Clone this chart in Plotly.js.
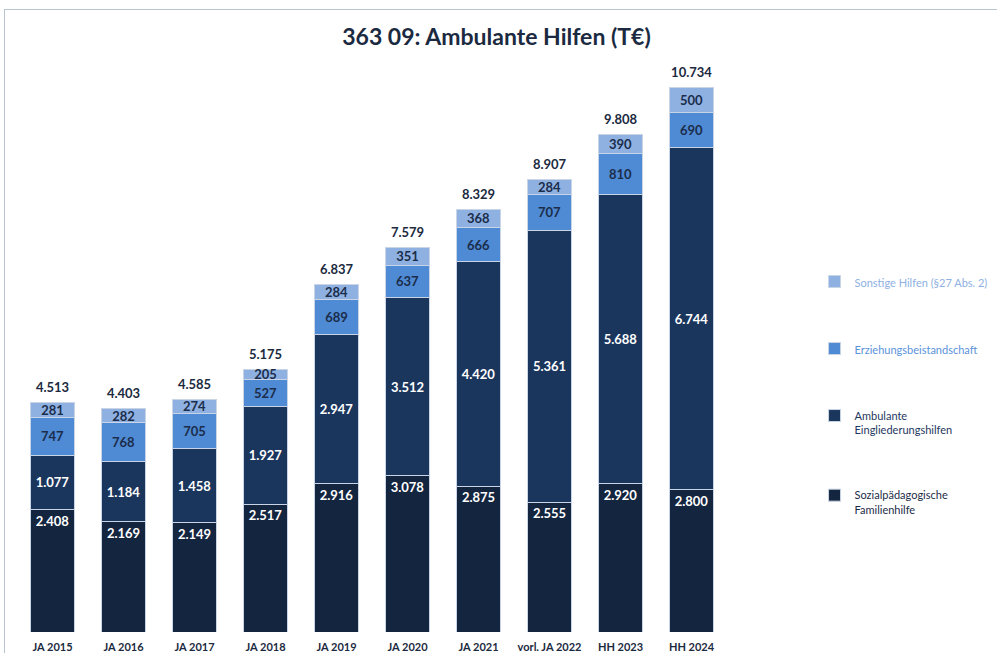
<!DOCTYPE html>
<html>
<head>
<meta charset="utf-8">
<script src="https://cdn.plot.ly/plotly-3.0.1.min.js"></script>
<style>
  html, body { margin: 0; padding: 0; background: #ffffff; }
  #wrap { position: relative; width: 997px; height: 655px; }
  #chart { position: absolute; left: 0; top: 0; width: 997px; height: 655px; }
  #frame { position: absolute; left: 4px; top: 9px; width: 993px; height: 643px;
           border-left: 1px solid #b8c4d2; border-top: 1px solid #b8c4d2; pointer-events: none; }
</style>
</head>
<body>
<div id="wrap"><div id="chart"></div><div id="frame"></div></div>
<script>
const categories = ["JA 2015", "JA 2016", "JA 2017", "JA 2018", "JA 2019", "JA 2020", "JA 2021", "vorl. JA 2022", "HH 2023", "HH 2024"];
const sozialpaedagogische = [2408, 2169, 2149, 2517, 2916, 3078, 2875, 2555, 2920, 2800];
const ambulanteEingliederung = [1077, 1184, 1458, 1927, 2947, 3512, 4420, 5361, 5688, 6744];
const erziehungsbeistandschaft = [747, 768, 705, 527, 689, 637, 666, 707, 810, 690];
const sonstigeHilfen = [281, 282, 274, 205, 284, 351, 368, 284, 390, 500];
const totals = [4513, 4403, 4585, 5175, 6837, 7579, 8329, 8907, 9808, 10734];

const FONT = "Lato, 'Open Sans', sans-serif";
const lineStyle = { color: "#c9d5e6", width: 1 };

function barTrace(name, values, color, textColor, anchor, legendColor, group, rank) {
  return {
    type: "bar",
    x: categories,
    y: values,
    name: '<span style="color:' + legendColor + '">' + name + '</span>',
    legendgroup: group,
    legendrank: rank,
    marker: { color: color, line: lineStyle },
    texttemplate: "%{y:,.0f}",
    textposition: "inside",
    insidetextanchor: anchor,
    textangle: 0,
    textfont: { family: FONT, size: 13, color: textColor, weight: "bold" },
    hoverinfo: "x+y+name"
  };
}

const traces = [
  barTrace("Sozialpädagogische<br>Familienhilfe", sozialpaedagogische, "#14253f", "#ffffff", "end", "#1c2c47", "g4", 4),
  barTrace("Ambulante<br>Eingliederungshilfen", ambulanteEingliederung, "#1b365d", "#ffffff", "middle", "#1e3760", "g3", 3),
  barTrace("Erziehungsbeistandschaft", erziehungsbeistandschaft, "#4f8ad4", "#1b2d4a", "middle", "#5a92da", "g2", 2),
  barTrace("Sonstige Hilfen (§27 Abs. 2)", sonstigeHilfen, "#8eb1e2", "#1b2d4a", "middle", "#8eb1e2", "g1", 1),
  {
    type: "scatter",
    mode: "markers+text",
    x: categories,
    y: totals,
    marker: { size: 10, color: "rgba(0,0,0,0)" },
    texttemplate: "%{y:,.0f}",
    textposition: "top center",
    textfont: { family: FONT, size: 13, color: "#1b2a40", weight: "bold" },
    showlegend: false,
    cliponaxis: false,
    hoverinfo: "skip"
  }
];

const layout = {
  width: 997,
  height: 655,
  separators: ",.",
  paper_bgcolor: "#ffffff",
  plot_bgcolor: "#ffffff",
  margin: { l: 17, r: 270, t: 40, b: 23 },
  barmode: "stack",
  bargap: 0.38,
  uniformtext: { mode: "show", minsize: 13 },
  title: {
    text: "363 09: Ambulante Hilfen (T€)",
    x: 0.498, xref: "container", xanchor: "center",
    y: 0.944, yref: "container", yanchor: "middle",
    font: { family: FONT, size: 23, color: "#1b2a40", weight: "bold" }
  },
  xaxis: {
    type: "category",
    range: [-0.5, categories.length - 0.5],
    showgrid: false, zeroline: false, showline: false,
    ticks: "outside", ticklen: 5, tickcolor: "rgba(0,0,0,0)",
    tickfont: { family: FONT, size: 11, color: "#1b2a40", weight: "bold" },
    fixedrange: true
  },
  yaxis: {
    range: [0, 11660],
    showgrid: false, zeroline: false, showline: false,
    showticklabels: false, ticks: "",
    fixedrange: true
  },
  showlegend: true,
  legend: {
    xref: "container", yref: "container",
    x: 0.817, xanchor: "left",
    y: 0.591, yanchor: "top",
    traceorder: "grouped",
    tracegroupgap: 48,
    valign: "top",
    itemwidth: 30,
    font: { family: FONT, size: 11, color: "#1b2a40" },
    bgcolor: "rgba(0,0,0,0)"
  }
};

Plotly.newPlot("chart", traces, layout, { displayModeBar: false, staticPlot: true });
</script>
</body>
</html>
